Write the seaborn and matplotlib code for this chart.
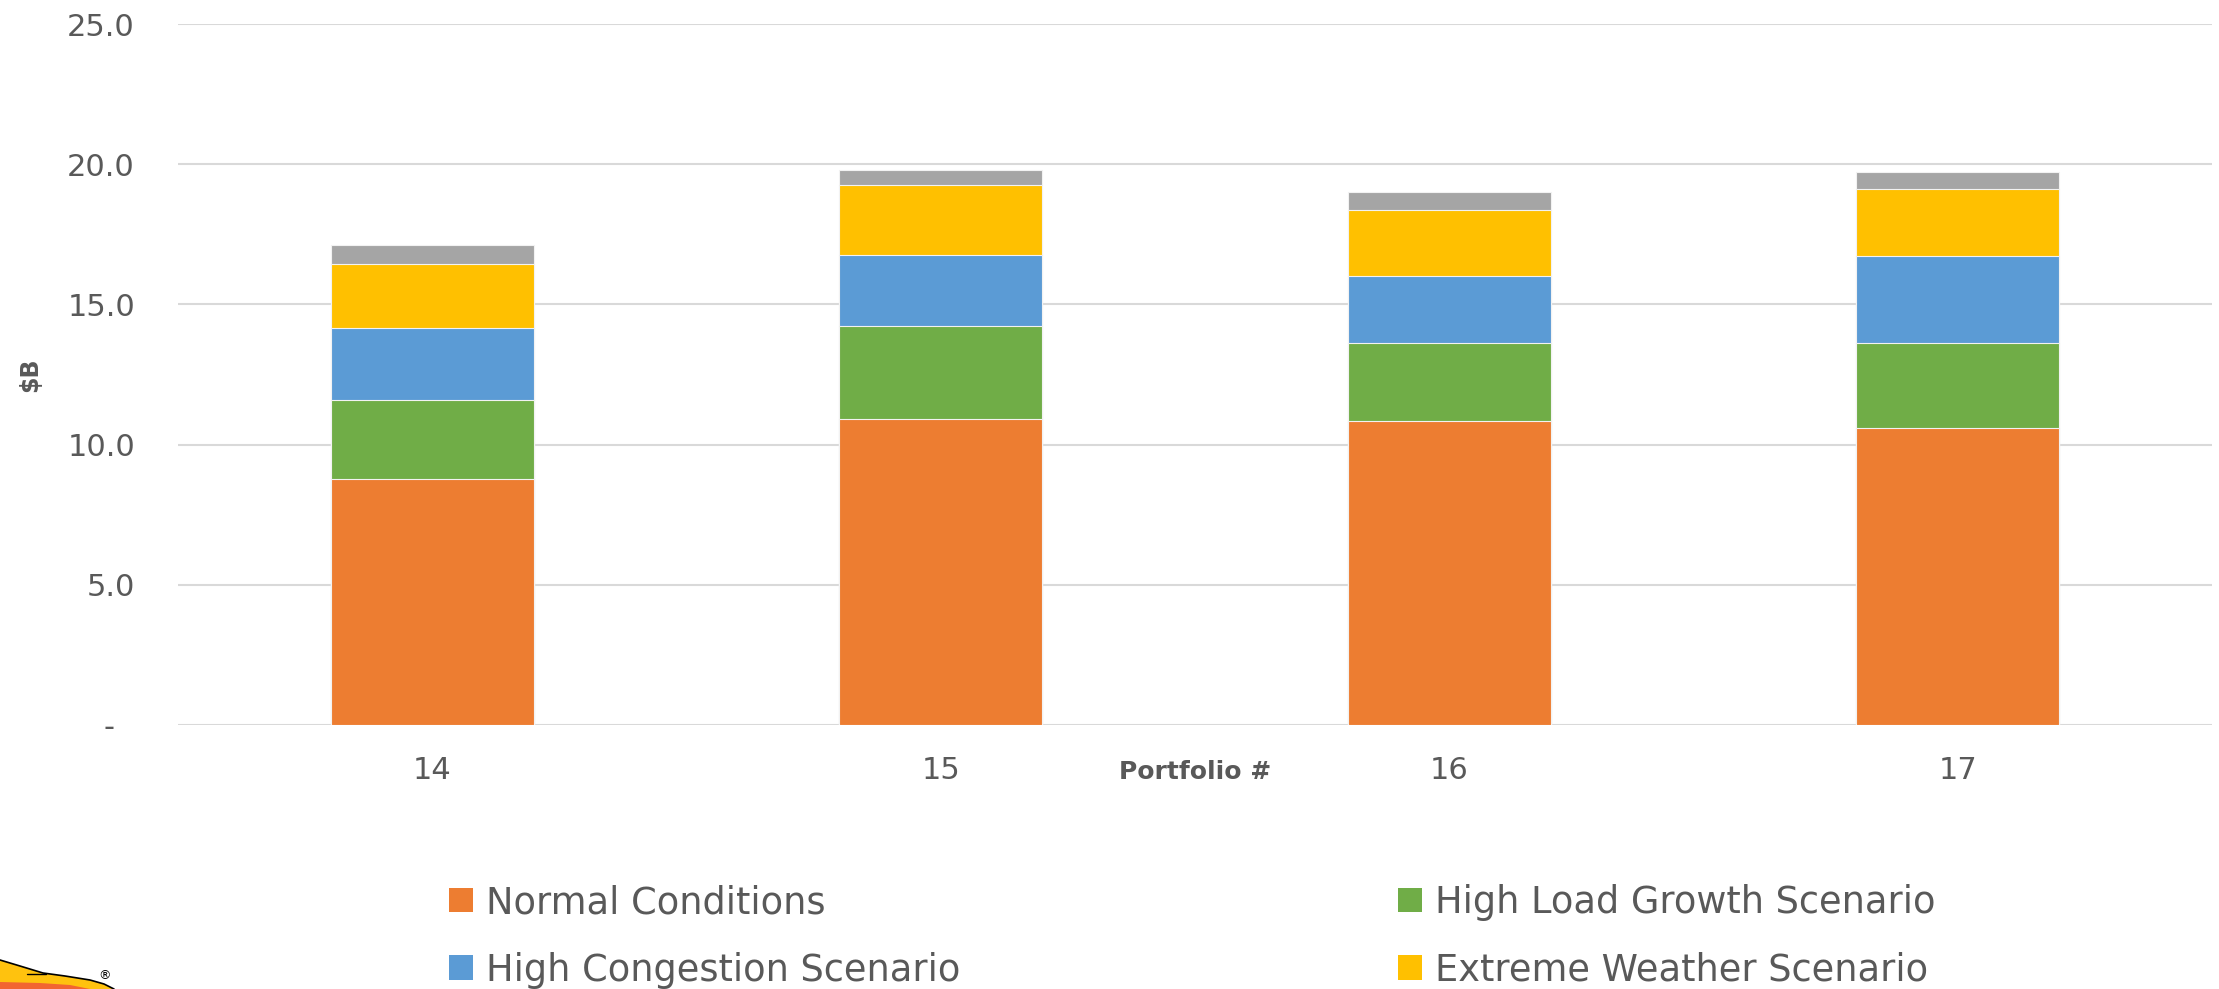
import numpy as np
import pandas as pd
import matplotlib
matplotlib.use("Agg")
import matplotlib.pyplot as plt
import seaborn as sns
from matplotlib.patches import Patch, Polygon
from matplotlib.lines import Line2D
from matplotlib.ticker import FuncFormatter, MultipleLocator

# Cost of each portfolio under each scenario ($B), stacked bottom to top
portfolios = ["14", "15", "16", "17"]
normal_conditions = [8.77, 10.90, 10.83, 10.60]
high_load_growth = [2.82, 3.32, 2.81, 3.02]
high_congestion = [2.56, 2.55, 2.36, 3.11]
extreme_weather = [2.29, 2.49, 2.37, 2.39]
other_scenario = [0.68, 0.52, 0.64, 0.60]

series_names = [
    "Normal Conditions",
    "High Load Growth Scenario",
    "High Congestion Scenario",
    "Extreme Weather Scenario",
    "Other",
]
series_colors = ["#ED7D31", "#70AD47", "#5B9BD5", "#FFC000", "#A5A5A5"]

W, H = 2219, 989
TEXT = "#595959"

sns.set_theme(style="white")
plt.rcParams["font.family"] = ["DejaVu Sans"]

df = pd.DataFrame(
    {
        "Portfolio": portfolios,
        series_names[0]: normal_conditions,
        series_names[1]: high_load_growth,
        series_names[2]: high_congestion,
        series_names[3]: extreme_weather,
        series_names[4]: other_scenario,
    }
)
cum = df[series_names].cumsum(axis=1)
cum.insert(0, "Portfolio", df["Portfolio"])

fig = plt.figure(figsize=(W / 100, H / 100), dpi=100)
ax = fig.add_axes([178 / W, 1 - 725 / H, (2212 - 178) / W, (725 - 24) / H])

# stacked bars: draw cumulative totals from the top segment down
for name, color in reversed(list(zip(series_names, series_colors))):
    sns.barplot(
        data=cum, x="Portfolio", y=name, order=portfolios, color=color,
        saturation=1, width=0.4, errorbar=None, edgecolor="#f2f2f2",
        linewidth=0.8, ax=ax,
    )

ax.set_xlim(-0.5, len(portfolios) - 0.5)
ax.set_ylim(0, 25)
ax.yaxis.set_major_locator(MultipleLocator(5))
ax.yaxis.set_major_formatter(
    FuncFormatter(lambda v, _: "-  " if abs(v) < 1e-9 else f"{v:.1f}")
)
ax.yaxis.grid(True, color="#d9d9d9", linewidth=1.5)
ax.set_axisbelow(True)
for s in ax.spines.values():
    s.set_visible(False)

ax.tick_params(axis="y", length=0, pad=31, labelsize=22, labelcolor=TEXT)
ax.tick_params(axis="x", length=0, pad=22, labelsize=22, labelcolor=TEXT)

ax.set_xlabel("Portfolio #", fontsize=18, fontweight="bold", color=TEXT)
ax.xaxis.label.set_va("center")
ax.xaxis.set_label_coords(0.5, -(772 - 725) / (725 - 24))
ax.set_ylabel("$B", fontsize=17, fontweight="bold", color=TEXT)
ax.yaxis.label.set_va("center")
ax.yaxis.set_label_coords((30 - 178) / (2212 - 178), 0.5)

# legend, filled row by row in two columns
handles = [Patch(facecolor=c, edgecolor="none") for c in series_colors]
order = [0, 2, 4, 1, 3]
fig.legend(
    [handles[i] for i in order], [series_names[i] for i in order],
    ncol=2, loc="upper left", bbox_to_anchor=(449 / W, 1 - 884 / H),
    frameon=False, fontsize=26.5, labelcolor=TEXT,
    handlelength=0.65, handleheight=0.65, handletextpad=0.35,
    columnspacing=11.9, labelspacing=0.83, borderpad=0, borderaxespad=0,
)

# corner logo
def px(points):
    return [(x / W, 1 - y / H) for x, y in points]

fig.patches.append(Polygon(
    px([(0, 960), (20, 966), (43, 973), (65, 976), (90, 980), (104, 984),
        (114, 989), (0, 989)]),
    closed=True, facecolor="#FFC20E", edgecolor="none",
    transform=fig.transFigure, figure=fig))
fig.patches.append(Polygon(
    px([(0, 982), (40, 983), (70, 985), (90, 989), (0, 989)]),
    closed=True, facecolor="#F26531", edgecolor="none",
    transform=fig.transFigure, figure=fig))
xs, ys = zip(*px([(0, 960), (20, 966), (43, 973), (65, 976), (90, 980),
                  (104, 984), (114, 989)]))
fig.add_artist(Line2D(xs, ys, color="black", linewidth=1.2,
                      transform=fig.transFigure))
xs, ys = zip(*px([(27, 974), (46, 974)]))
fig.add_artist(Line2D(xs, ys, color="black", linewidth=1.0,
                      transform=fig.transFigure))
fig.text(105 / W, 1 - 976 / H, "®", fontsize=9, color="black",
         ha="center", va="center")

fig.savefig("out.png", dpi=100)
